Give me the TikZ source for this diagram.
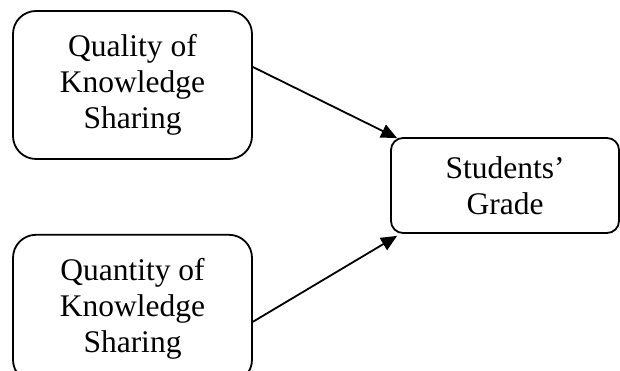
\documentclass[tikz,border=0pt]{standalone}
\usepackage{fontspec}
\setmainfont{Liberation Serif}
\usepackage{tikz}
\usetikzlibrary{arrows.meta,positioning}

\begin{document}
\begin{tikzpicture}[x=1pt,y=1pt,->,>={Triangle[length=16pt,width=14pt]},
            line width=1.8pt]
        \tikzstyle{every node}=[font=\fontsize{31.5}{36}\selectfont]
        \tikzstyle{factor}=[draw=black,text=black,rounded corners=23pt,
            minimum width=239pt,minimum height=148pt,align=center,inner sep=0pt]
        \tikzstyle{result}=[factor,rounded corners=12pt,
            minimum width=228pt,minimum height=95pt]

        \useasboundingbox (0,0) rectangle (620,371);

        \node[factor] (quality) at (132.5,286) {Quality of\\Knowledge\\Sharing};
        \node[factor] (quantity) [below=74pt of quality] {Quantity of\\Knowledge\\Sharing};
        \node[result] (grade) at (505,185.5) {Students’\\Grade};

        \draw ([yshift=18pt]quality.east) -- ([xshift=7pt,yshift=-1pt]grade.north west);
        \draw ([yshift=-13pt]quantity.east) -- ([xshift=7pt,yshift=-2pt]grade.south west);
    \end{tikzpicture}
\end{document}
